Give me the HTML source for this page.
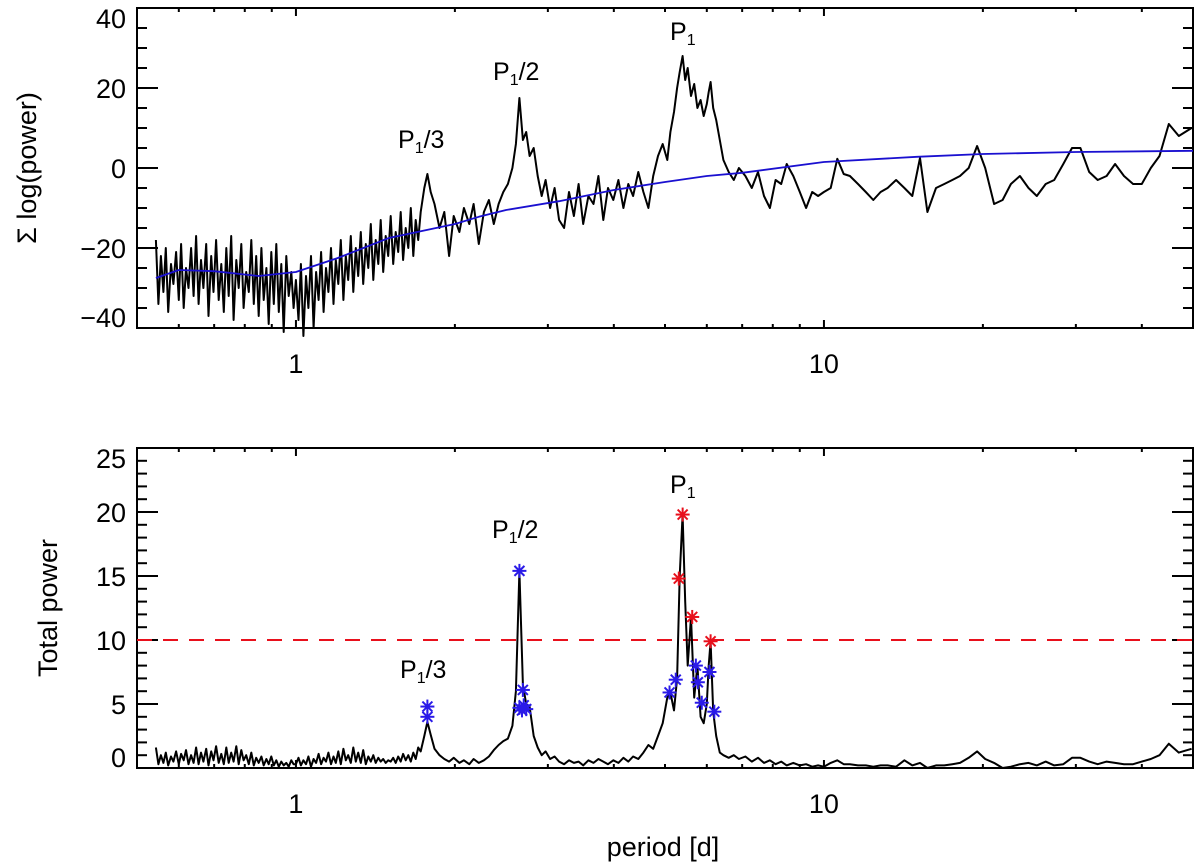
<!DOCTYPE html>
<html><head><meta charset="utf-8"><style>
html,body{margin:0;padding:0;background:#fff;}
svg{display:block;font-family:"Liberation Sans",sans-serif;}
</style></head><body>
<svg id="chart" width="1200" height="863" viewBox="0 0 1200 863" xmlns="http://www.w3.org/2000/svg">
<g id="topPanel"></g>
<g id="botPanel"></g>
</svg>
<script>
// ---- data ----
const periods = [0.543,0.549,0.555,0.561,0.567,0.573,0.58,0.586,0.593,0.6,0.606,0.613,0.619,0.626,0.633,0.64,0.647,0.654,0.661,0.668,0.676,0.683,0.691,0.698,0.706,0.714,0.722,0.73,0.738,0.746,0.754,0.762,0.771,0.779,0.788,0.796,0.805,0.814,0.823,0.832,0.841,0.85,0.86,0.869,0.879,0.888,0.898,0.908,0.918,0.928,0.938,0.948,0.959,0.969,0.98,0.99,
1.0,1.011,1.022,1.033,1.045,1.056,1.068,1.08,1.092,1.104,1.116,1.128,1.14,1.152,1.165,1.178,1.19,1.203,1.216,1.23,1.243,1.256,1.27,1.284,1.298,1.312,1.327,1.341,1.356,1.371,1.386,1.401,1.416,1.432,1.447,1.463,1.479,1.495,1.512,1.528,1.545,1.562,1.579,1.596,1.614,1.632,1.65,1.668,1.686,1.704,1.723,
1.75,1.774,1.80,1.83,1.87,1.91,1.95,1.99,2.04,2.08,2.13,2.17,2.22,2.27,2.32,2.37,2.42,2.47,
2.52,2.57,2.61,2.65,2.69,2.73,2.77,2.82,2.87,2.92,2.97,3.03,3.09,3.15,
3.22,3.29,3.36,3.43,3.5,3.58,3.66,3.74,3.82,3.9,3.99,4.08,4.17,4.26,4.35,4.45,4.55,4.65,4.75,4.85,
4.95,5.05,5.12,5.2,5.27,5.33,5.40,5.46,5.52,5.6,5.68,5.76,5.84,5.92,6.0,6.05,6.1,6.17,6.25,6.35,6.45,6.6,6.75,6.9,
7.1,7.3,7.5,7.7,7.9,8.1,8.3,8.5,8.75,9.0,9.25,9.5,9.75,10.0,10.3,10.6,10.9,11.2,11.6,12.0,12.4,12.8,13.2,13.7,14.2,14.7,15.2,15.7,16.3,16.9,17.5,18.1,18.8,19.5,20.2,21.0,21.8,22.6,23.5,24.4,25.3,26.3,27.3,28.4,29.5,30.6,31.8,33.0,34.3,35.6,37.0,38.5,40,41.6,43.2,45,47,49.7];
const sumLogPower = [-18,-34,-22,-31,-20,-36,-24,-29,-21,-33,-19,-35,-25,-30,-20,-32,-17,-34,-23,-30,-19,-37,-22,-31,-18,-33,-24,-36,-20,-32,-17,-38,-23,-30,-19,-35,-26,-31,-18,-34,-22,-37,-20,-33,-25,-39,-21,-34,-19,-36,-24,-41,-22,-32,-26,-35,
-28,-38,-24,-42,-27,-35,-22,-40,-26,-33,-21,-36,-25,-31,-20,-34,-23,-29,-18,-33,-22,-28,-17,-31,-20,-27,-16,-29,-19,-25,-14,-28,-18,-24,-13,-26,-17,-22,-12,-24,-16,-21,-11,-23,-15,-20,-10,-22,-13,-18,-11,
-5,-1.5,-6,-9,-15,-11,-22,-12,-16,-10,-14,-9,-19,-11,-8,-14,-9,-6,
-4,0,6,17.5,7,9,3,5,-2,-7,-3,-10,-5,-13,
-15,-6,-12,-4,-14,-7,-9,-2,-13,-5,-8,-3,-10,-4,-7,-1,-6,-10,-2,3,
6,2,9,14,20,24,28,22,25,18,21,15,17,13,16,19,21.5,15,12,7,2,-1,-3,0,
-2,-5,-1,-7,-10,-3,-4,1,-2,-6,-10,-6,-7,-6,-5,2.3,-1.5,-2,-4,-6,-8,-6,-5,-3,-5,-7,2.5,-11,-5,-4,-3,-2,0,5.5,0,-9,-8,-4,-2,-5,-7,-4,-3,1,5,5,-1,-3,-2,1,-2,-4,-4,0,3,11,8,10];
const totalPower = [1.6,0.3,1.0,0.4,1.2,0.2,0.9,0.5,1.3,0.3,1.1,0.6,1.4,0.3,1.0,0.4,1.6,0.3,1.2,0.5,1.5,0.2,1.3,0.6,1.7,0.4,1.1,0.3,1.6,0.4,1.2,0.5,1.7,0.3,1.4,0.6,1.0,0.3,1.2,0.2,0.8,0.4,0.9,0.2,0.7,0.3,0.9,0.2,0.6,0.1,0.5,0.2,0.4,0.1,0.6,0.3,
0.3,0.8,0.2,0.6,0.3,0.9,0.1,0.7,0.4,1.1,0.3,0.8,0.5,1.2,0.3,0.9,0.4,1.3,0.3,1.5,0.6,1.0,0.4,1.6,0.5,1.2,0.4,1.4,0.3,0.9,0.5,1.0,0.4,0.8,0.5,0.7,0.4,0.6,0.5,0.8,0.4,0.9,0.5,1.1,0.6,1.0,0.5,1.2,0.7,1.6,1.3,
2.5,3.6,2.6,1.5,1.0,0.7,0.5,0.8,0.4,0.6,0.3,0.7,0.4,0.6,0.9,1.4,1.8,2.1,
2.3,3.3,6,15.4,6.5,5,4.8,2.5,1.6,1.0,1.3,0.7,0.9,0.5,
0.3,0.6,0.4,0.5,0.2,0.6,0.4,0.7,0.5,0.3,0.6,0.4,0.8,0.5,0.9,0.7,1.2,1.8,1.5,2.5,
3.5,5.5,5.9,4.5,7,15,19.8,13,8,11.8,5.5,8,4,3.5,5,8,9.9,4.4,2.5,1.2,1.0,0.8,1.0,0.7,
0.9,0.5,0.8,0.4,0.6,0.3,0.5,0.2,0.4,0.2,0.3,0.1,0.2,0.1,0.4,0.6,0.3,0.3,0.2,0.2,0.1,0.2,0.2,0.1,0.6,0.2,0.4,0.0,0.2,0.2,0.3,0.4,0.8,1.3,0.7,0.4,0.0,0.1,0.3,0.4,0.2,0.5,0.2,0.3,0.8,0.8,0.5,0.3,0.5,0.4,0.3,0.3,0.5,0.7,1.0,1.9,1.2,1.5];
const fitPeriods = [0.543,0.6,0.7,0.85,1.0,1.2,1.5,2.0,2.22,2.5,3.15,4.0,5.0,6.0,7.0,10,15,20,30,50];
const fitValues = [-27.5,-25.5,-25.8,-27,-26,-22.5,-17.5,-14,-12.2,-10.5,-8.3,-5.5,-3.5,-2,-1.2,1.5,2.8,3.5,4,4.3];
const bluePeriods = [1.774,1.774,2.65,2.69,2.65,2.70,2.73,2.68,5.1,5.24,5.72,5.77,5.87,6.07,6.2];
const blueValues = [4.8,4.0,15.4,6.1,4.7,4.9,4.6,4.5,5.9,6.9,8.0,6.7,5.1,7.5,4.4];
const redPeriods = [5.40,5.31,5.63,6.1];
const redValues = [19.8,14.8,11.8,9.9];
const threshold = 10;
const topTicks = [40,20,0,-20,-40];
const topTickLabels = ["40","20","0","\u221220","\u221240"];
const botTicks = [25,20,15,10,5,0];
const botTickLabels = ["25","20","15","10","5","0"];
const xMajor = [1,10];
const xMajorLabels = ["1","10"];
const xMinor = [0.6,0.7,0.8,0.9,2,3,4,5,6,7,8,9,20,30,40];

// ---- layout ----
const X0=137,X1=1193;
const xs = p => X0 + (Math.log10(p)-Math.log10(0.5))/(Math.log10(50)-Math.log10(0.5))*(X1-X0);
const T={y0:8,y1:328,vmin:-40,vmax:40};
const B={y0:448,y1:768,vmin:0,vmax:25};
const ys=(P,v)=>P.y1-(v-P.vmin)/(P.vmax-P.vmin)*(P.y1-P.y0);
const NS="http://www.w3.org/2000/svg";
function mk(parent,tag,attrs){const e=document.createElementNS(NS,tag);for(const k in attrs)e.setAttribute(k,attrs[k]);parent.appendChild(e);return e;}

function axes(g,P,ticks,labels,minorStep,prefix){
  const box=mk(g,'rect',{x:X0,y:P.y0,width:X1-X0,height:P.y1-P.y0,fill:'none',stroke:'#000','stroke-width':2});
  
  
  for(let v=P.vmin;v<=P.vmax;v+=minorStep){
    const y=ys(P,v);
    mk(g,'line',{x1:X0,x2:X0+10,y1:y,y2:y,stroke:'#000','stroke-width':2});
    mk(g,'line',{x1:X1,x2:X1-10,y1:y,y2:y,stroke:'#000','stroke-width':2});
  }
  ticks.forEach((v,i)=>{
    const y=ys(P,v);
    mk(g,'line',{x1:X0,x2:X0+21,y1:y,y2:y,stroke:'#000','stroke-width':2});
    mk(g,'line',{x1:X1,x2:X1-21,y1:y,y2:y,stroke:'#000','stroke-width':2});
    let off=10;
    if(v===P.vmax) off=20;
    if(v===P.vmin) off=-1;
    const t=mk(g,'text',{x:126,y:y+off,'text-anchor':'end','font-size':27});
    t.textContent=labels[i];
    
    
  });
  xMinor.forEach(p=>{const x=xs(p);
    mk(g,'line',{x1:x,x2:x,y1:P.y0,y2:P.y0+4,stroke:'#000','stroke-width':2});
    mk(g,'line',{x1:x,x2:x,y1:P.y1,y2:P.y1-4,stroke:'#000','stroke-width':2});});
  xMajor.forEach((p,i)=>{const x=xs(p);
    mk(g,'line',{x1:x,x2:x,y1:P.y0,y2:P.y0+8,stroke:'#000','stroke-width':2});
    mk(g,'line',{x1:x,x2:x,y1:P.y1,y2:P.y1-8,stroke:'#000','stroke-width':2});
    const t=mk(g,'text',{x:x,y:P.y1+45,'text-anchor':'middle','font-size':27});
    t.textContent=xMajorLabels[i];
    
    
  });
}
function drawLine(g,P,px,vals,color,w,name){
  const d=px.map((p,i)=>(i?'L':'M')+xs(p).toFixed(1)+','+ys(P,vals[i]).toFixed(1)).join('');
  const e=mk(g,'path',{d:d,fill:'none',stroke:color,'stroke-width':w,'stroke-linejoin':'round'});
  
  
}
function star(g,x,y,color,name){
  const s=mk(g,'g',{stroke:color,'stroke-width':2});
  
  
  const r=7;
  mk(s,'line',{x1:x-r,x2:x+r,y1:y,y2:y});mk(s,'line',{x1:x,x2:x,y1:y-r,y2:y+r});
  mk(s,'line',{x1:x-5,x2:x+5,y1:y-5,y2:y+5});mk(s,'line',{x1:x-5,x2:x+5,y1:y+5,y2:y-5});
}
function peakLabel(g,x,y,suffix,name){
  const t=mk(g,'text',{x:x,y:y,'font-size':25});
  
  
  const a=document.createElementNS(NS,'tspan');a.textContent='P';t.appendChild(a);
  const b=document.createElementNS(NS,'tspan');b.setAttribute('font-size','16');b.setAttribute('dy','5');b.textContent='1';t.appendChild(b);
  if(suffix){const c=document.createElementNS(NS,'tspan');c.setAttribute('dy','-5');c.textContent=suffix;t.appendChild(c);}
}

const topG=document.getElementById('topPanel'), botG=document.getElementById('botPanel');
axes(topG,T,topTicks,topTickLabels,5,'top');
axes(botG,B,botTicks,botTickLabels,1,'bottom');
drawLine(topG,T,periods,sumLogPower,'#000',2,'sum-log-power-line');
drawLine(topG,T,fitPeriods,fitValues,'#1a10d0',1.8,'fit-curve');
const th=mk(botG,'line',{x1:X0,x2:X1,y1:ys(B,threshold),y2:ys(B,threshold),stroke:'#e8101c','stroke-width':2,'stroke-dasharray':'15,11'});


drawLine(botG,B,periods,totalPower,'#000',2,'total-power-line');
bluePeriods.forEach((p,i)=>star(botG,xs(p),ys(B,blueValues[i]),'#2a1ae8','blue-marker'));
redPeriods.forEach((p,i)=>star(botG,xs(p),ys(B,redValues[i]),'#e8101c','red-marker'));

peakLabel(topG,398,148,'/3','top-label-p1-3');
peakLabel(topG,493,80,'/2','top-label-p1-2');
peakLabel(topG,670,40,'','top-label-p1');
peakLabel(botG,400,678,'/3','bottom-label-p1-3');
peakLabel(botG,492,538,'/2','bottom-label-p1-2');
peakLabel(botG,670,493,'','bottom-label-p1');

const yt1=mk(topG,'text',{x:0,y:0,'font-size':27,'text-anchor':'middle',transform:'translate(36,168) rotate(-90)'});
yt1.textContent='\u03A3  log(power)';


const yt2=mk(botG,'text',{x:0,y:0,'font-size':27,'text-anchor':'middle',transform:'translate(57,608) rotate(-90)'});
yt2.textContent='Total  power';


const xt=mk(botG,'text',{x:663,y:856,'font-size':27,'text-anchor':'middle'});
xt.textContent='period  [d]';


</script>
</body></html>
